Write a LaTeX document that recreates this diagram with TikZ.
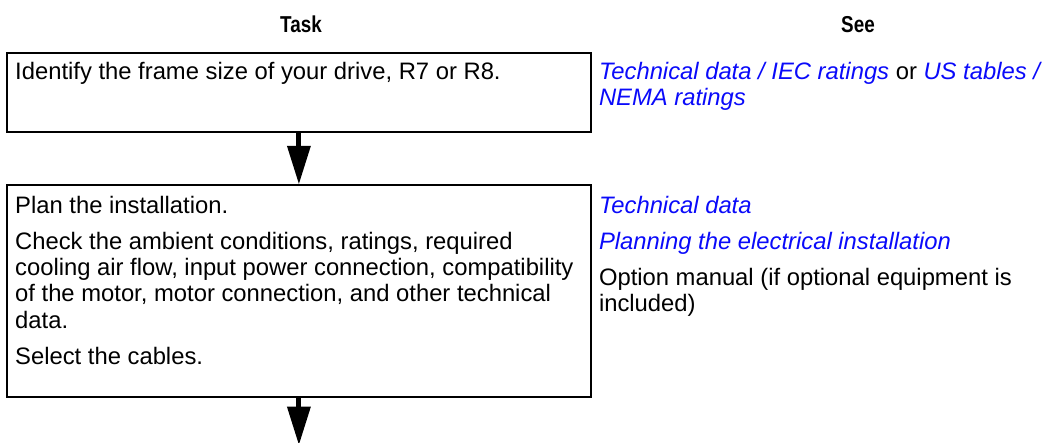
\documentclass[tikz,border=0pt]{standalone}
\usepackage{fontspec}
\setmainfont{Liberation Sans}
\newfontfamily\headfont[FakeStretch=0.82]{Liberation Sans}
\usetikzlibrary{positioning,arrows.meta}
\definecolor{linkblue}{RGB}{10,10,250}
\newcommand{\seelink}[1]{\textit{\color{linkblue}#1}}

\begin{document}
\begin{tikzpicture}[x=1pt, y=-1pt,
		taskbox/.style={draw, line width=1.8pt, minimum width=584pt, inner sep=0pt},
		boxtext/.style={inner sep=0pt, align=left, font=\fontsize{23.8}{26.3}\selectfont},
		headtext/.style={font=\headfont\bfseries\fontsize{23}{26}\selectfont},
		flowarrow/.style={line width=5pt, -{Triangle[width=24pt,length=38pt,line width=0pt]}}]
		\useasboundingbox (0,0) rectangle (1048,442);
		\node (task) [headtext, anchor=base] at (301,32) {Task};
		\node (see) [headtext, anchor=base] at (858,32) {See};

		\node (box1) [taskbox, anchor=north west, minimum height=79pt] at (6,52) {};
		\node (box2) [taskbox, minimum height=212pt, below=51pt of box1] {};
		\node (next) [coordinate, below=47pt of box2.south] {};

		\node (ident) [boxtext, below right=10pt and 9pt of box1.north west] {Identify the frame size of your drive, R7 or R8.};
		\node (plan) [boxtext, below right=12pt and 9pt of box2.north west] {Plan the installation.\\[9.7pt]
			Check the ambient conditions, ratings, required\\
			cooling air flow, input power connection, compatibility\\
			of the motor, motor connection, and other technical\\
			data.\\[9.7pt]
			Select the cables.};
		\node (ref1) [boxtext, below right=10pt and 7pt of box1.north east] {\seelink{Technical data / IEC ratings} or \seelink{US tables /}\\
			\seelink{NEMA ratings}};
		\node (ref2) [boxtext, below right=12pt and 7pt of box2.north east] {\seelink{Technical data}\\[9.7pt]
			\seelink{Planning the electrical installation}\\[9.7pt]
			Option manual (if optional equipment is\\
			included)};

		\draw [flowarrow] (box1) -- (box2);
		\draw [flowarrow] (box2) -- (next);
\end{tikzpicture}
\end{document}
